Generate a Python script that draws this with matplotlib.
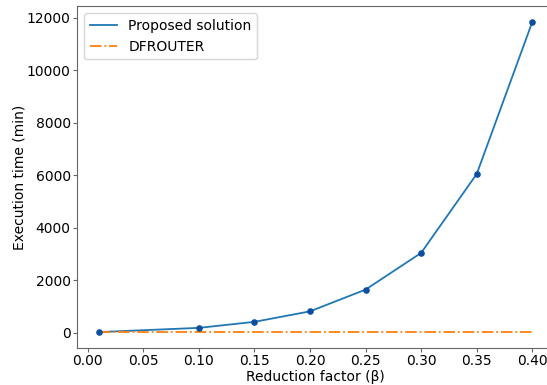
import matplotlib
matplotlib.use('Agg')
import matplotlib.pyplot as plt

beta = [0.01, 0.10, 0.15, 0.20, 0.25, 0.30, 0.35, 0.40]
proposed = [20, 180, 410, 810, 1640, 3040, 6050, 11850]
dfrouter = [5, 5, 5, 5, 5, 5, 5, 5]

fig, ax = plt.subplots(figsize=(5.47, 3.85), dpi=100)
ax.plot(beta, proposed, color='#1f77b4', lw=1.3, label='Proposed solution')
ax.scatter(beta, proposed, color='#0d4f9e', s=14, zorder=3)
ax.plot(beta, dfrouter, color='#ff7f0e', lw=1.3, ls='-.', label='DFROUTER')

ax.set_xlabel('Reduction factor (β)', fontsize=10, labelpad=1)
ax.set_ylabel('Execution time (min)', fontsize=10)
ax.yaxis.set_label_coords(-0.106, 0.5)
ax.tick_params(labelsize=10, length=3, pad=1.5, color='#666666')
for s in ax.spines.values():
    s.set_color('#666666')
ax.legend(loc='upper left', fontsize=10)

# right edge is cropped in the original, so let the axes run past the figure
fig.subplots_adjust(left=0.1408, right=1.0128, top=0.9834, bottom=0.0961)
fig.savefig('out.png')
